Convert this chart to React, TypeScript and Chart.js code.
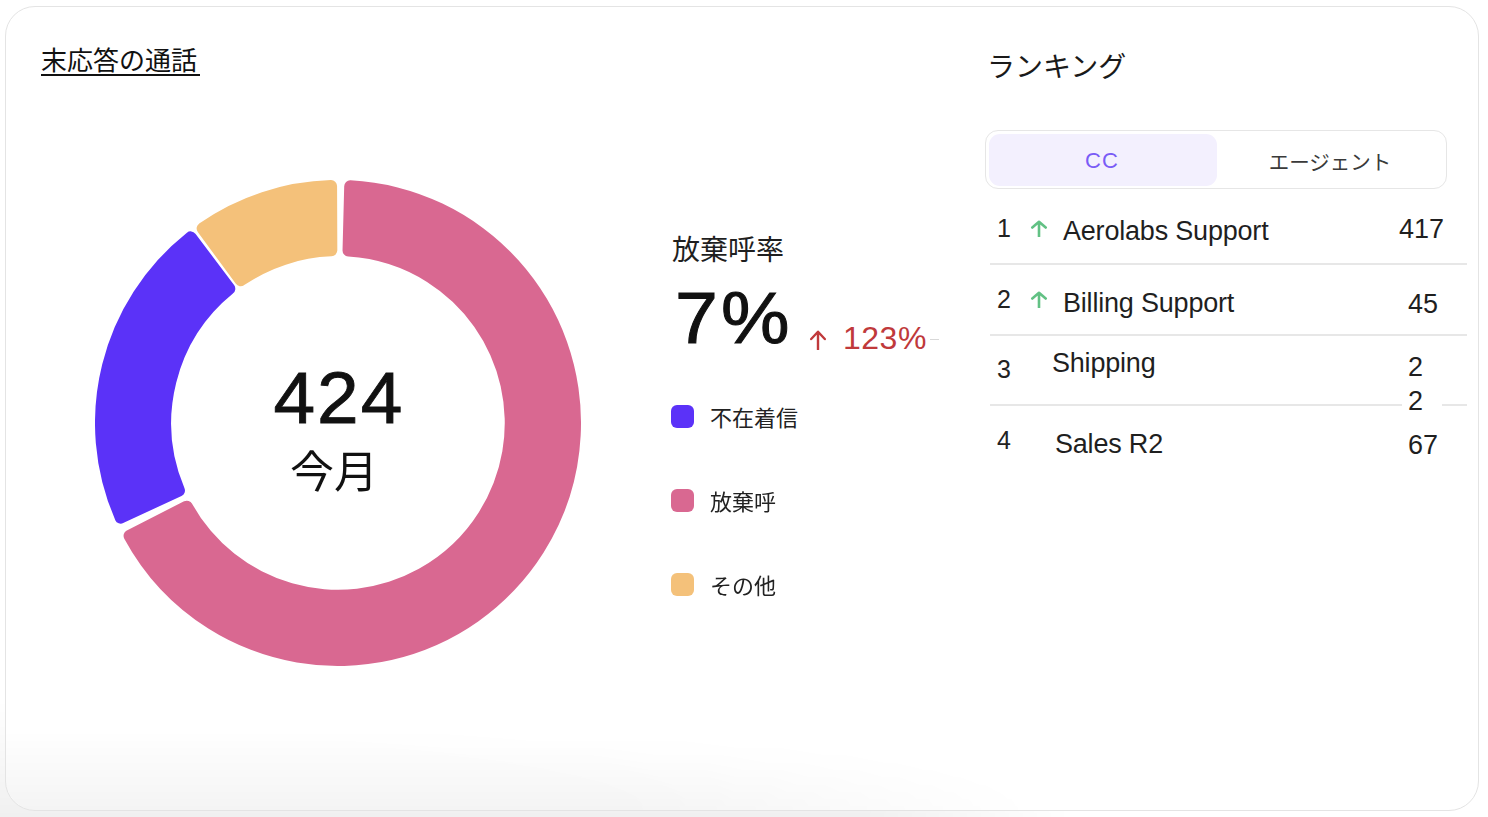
import React, { useEffect, useRef } from "react";
import { Chart, registerables } from "chart.js";

Chart.register(...registerables);

// ---- data ----
const categories = ["不在着信", "放棄呼", "その他"];
const callCounts = [93, 288, 43];
const categoryColors = ["#5B32F8", "#D96891", "#F4C17A"];
const drawOrder = [1, 0, 2]; // clockwise from top: 放棄呼, 不在着信, その他
const periodLabel = "今月";
const abandonRateLabel = "放棄呼率";
const abandonRate = "7%";
const abandonChange = "123%";

const rankPositions = ["1", "2", "3", "4"];
const rankNames = ["Aerolabs Support", "Billing Support", "Shipping", "Sales R2"];
const rankValues = ["417", "45", "22", "67"];
const rankTrendUp = [true, true, false, false];
const tabLabels = ["CC", "エージェント"];

const LATIN = '"Liberation Sans", Arial, "Noto Sans CJK JP", sans-serif';
const JP = '"Noto Sans CJK JP", "Liberation Sans", sans-serif';

function Txt(props: {
  x: number;
  cy: number;
  size: number;
  text: string;
  color?: string;
  font?: string;
  weight?: number;
  ls?: number;
  align?: "left" | "center";
  sx?: number;
  stroke?: number;
}) {
  const { x, cy, size, text, color = "#1a1a1a", font = LATIN, weight = 400, ls = 0, align = "left", sx = 1, stroke = 0 } = props;
  const style: React.CSSProperties = {
    position: "absolute",
    top: cy - size / 2,
    left: align === "center" ? x - 300 : x,
    width: align === "center" ? 600 : undefined,
    textAlign: align,
    fontSize: size,
    lineHeight: `${size}px`,
    fontFamily: font,
    fontWeight: weight,
    letterSpacing: ls,
    color,
    whiteSpace: "nowrap",
    transform: sx !== 1 ? `scaleX(${sx})` : undefined,
    transformOrigin: align === "center" ? "50% 50%" : "0 50%",
    WebkitTextStroke: stroke ? `${stroke}px ${color}` : undefined,
  };
  return <div style={style}>{text}</div>;
}

function Arrow(props: { cx: number; cy: number; w: number; h: number; color: string; sw: number }) {
  const { cx, cy, w, h, color, sw } = props;
  return (
    <svg
      width={w}
      height={h}
      viewBox={`0 0 ${w} ${h}`}
      style={{ position: "absolute", left: cx - w / 2, top: cy - h / 2 }}
    >
      <path
        d={`M ${w / 2} ${h - 0.5} L ${w / 2} ${sw} M ${sw / 2 + 1} ${h / 2 - 1} L ${w / 2} ${sw / 2 + 0.5} L ${w - sw / 2 - 1} ${h / 2 - 1}`}
        stroke={color}
        strokeWidth={sw}
        fill="none"
        strokeLinecap="round"
        strokeLinejoin="round"
      />
    </svg>
  );
}

const CANVAS = 486;

function Donut() {
  const ref = useRef<HTMLCanvasElement | null>(null);
  useEffect(() => {
    if (!ref.current) return;
    const chart = new Chart(ref.current, {
      type: "doughnut",
      data: {
        labels: drawOrder.map((i) => categories[i]),
        datasets: [
          {
            data: drawOrder.map((i) => callCounts[i]),
            backgroundColor: drawOrder.map((i) => categoryColors[i]),
            borderWidth: 0,
            borderRadius: 6,
            spacing: 5,
          },
        ],
      },
      options: {
        animation: false,
        responsive: false,
        cutout: "68.3%",
        layout: { padding: 0 },
        plugins: { legend: { display: false }, tooltip: { enabled: false } },
        events: [],
      } as any,
    });
    return () => chart.destroy();
  }, []);
  return (
    <div style={{ position: "absolute", left: 95, top: 180, width: CANVAS, height: CANVAS }}>
      <canvas ref={ref} width={CANVAS} height={CANVAS} style={{ width: CANVAS, height: CANVAS }} />
    </div>
  );
}

export default function App() {
  const total = callCounts.reduce((a, b) => a + b, 0);
  const rowCy = [
    { num: 228, name: 231, val: 229 },
    { num: 299, name: 303, val: 304 },
    { num: 369, name: 363, val: 367 },
    { num: 440, name: 444, val: 445 },
  ];
  const nameX = [1063, 1063, 1052, 1055];
  const valX = [1399, 1408, 1408, 1408];
  const legendCy = [416, 500, 584];
  const legendOrder = [0, 1, 2];

  return (
    <div
      style={{
        position: "absolute",
        left: 0,
        top: 0,
        width: 1488,
        height: 817,
        background: "#ffffff",
        overflow: "hidden",
      }}
    >
      {/* bottom outside shade */}
      <div
        style={{
          position: "absolute",
          left: 0,
          top: 700,
          width: 1488,
          height: 117,
          background: "linear-gradient(to bottom, rgba(0,0,0,0) 0%, rgba(0,0,0,0.06) 100%)",
          WebkitMaskImage: "linear-gradient(to right, #000 0%, #000 58%, transparent 72%)",
          maskImage: "linear-gradient(to right, #000 0%, #000 58%, transparent 72%)",
        }}
      />
      {/* card */}
      <div
        style={{
          position: "absolute",
          left: 5,
          top: 6,
          width: 1472,
          height: 803,
          border: "1.5px solid #e4e4e4",
          borderRadius: 30,
          background: "#ffffff",
          overflow: "hidden",
        }}
      >
        <div
          style={{
            position: "absolute",
            left: 0,
            bottom: 0,
            width: "100%",
            height: 80,
            background: "linear-gradient(to bottom, rgba(0,0,0,0) 0%, rgba(0,0,0,0.045) 100%)",
            WebkitMaskImage: "radial-gradient(ellipse 70% 140% at 0% 100%, #000 60%, transparent 100%)",
            maskImage: "radial-gradient(ellipse 70% 140% at 0% 100%, #000 60%, transparent 100%)",
          }}
        />
      </div>

      {/* title */}
      <Txt x={41} cy={59} size={26} text="末応答の通話" font={JP} color="#111" />
      <div style={{ position: "absolute", left: 41, top: 74, width: 159, height: 1.5, background: "#111" }} />

      <Donut />

      {/* center labels */}
      <Txt x={339} cy={398} size={72} text={String(total)} align="center" color="#111" ls={2} sx={1.04} stroke={0.8} />
      <Txt x={334} cy={469} size={44} text={periodLabel} align="center" font={JP} color="#111" />

      {/* rate */}
      <Txt x={672} cy={248} size={28} text={abandonRateLabel} font={JP} color="#1f1f1f" />
      <Txt x={675} cy={318} size={72} text={abandonRate} color="#111" ls={3} sx={1.07} stroke={1} />
      <Arrow cx={818} cy={340} w={18} h={20} color="#c0393b" sw={2.4} />
      <Txt x={843} cy={338} size={32} text={abandonChange} color="#c0393b" ls={0.5} />
      <div style={{ position: "absolute", left: 930, top: 339, width: 9, height: 1, background: "#d8d8d8" }} />

      {/* legend */}
      {legendOrder.map((i, k) => (
        <React.Fragment key={i}>
          <div
            style={{
              position: "absolute",
              left: 671,
              top: legendCy[k] - 11,
              width: 23,
              height: 23,
              borderRadius: 6,
              background: categoryColors[i],
            }}
          />
          <Txt x={710} cy={legendCy[k]} size={22} text={categories[i]} font={JP} color="#222" />
        </React.Fragment>
      ))}

      {/* ranking */}
      <Txt x={987} cy={65} size={28} text="ランキング" font={JP} color="#1a1a1a" />
      <div
        style={{
          position: "absolute",
          left: 985,
          top: 130,
          width: 462,
          height: 59,
          border: "1.5px solid #e6e6e6",
          borderRadius: 13,
          boxSizing: "border-box",
        }}
      />
      <div
        style={{
          position: "absolute",
          left: 989,
          top: 134,
          width: 228,
          height: 52,
          borderRadius: 11,
          background: "#f3f0fe",
        }}
      />
      <Txt x={1102} cy={161} size={22} text={tabLabels[0]} align="center" color="#7a5cf6" ls={1} />
      <Txt x={1330} cy={161} size={20.5} text={tabLabels[1]} align="center" font={JP} color="#3a3a3a" />

      {/* dividers */}
      <div style={{ position: "absolute", left: 990, top: 263, width: 477, height: 2, background: "#e7e7e7" }} />
      <div style={{ position: "absolute", left: 990, top: 334, width: 477, height: 2, background: "#e7e7e7" }} />
      <div style={{ position: "absolute", left: 990, top: 404, width: 412, height: 2, background: "#e7e7e7" }} />
      <div style={{ position: "absolute", left: 1442, top: 404, width: 25, height: 2, background: "#e7e7e7" }} />

      {rankPositions.map((p, i) => (
        <React.Fragment key={p}>
          <Txt x={997} cy={rowCy[i].num} size={25} text={p} color="#222" />
          {rankTrendUp[i] && <Arrow cx={1039} cy={rowCy[i].num} w={18} h={17} color="#62c184" sw={2.6} />}
          <Txt x={nameX[i]} cy={rowCy[i].name} size={27} text={rankNames[i]} color="#1f1f1f" ls={-0.2} />
          {i === 2 ? (
            <>
              <Txt x={valX[i]} cy={rowCy[i].val} size={27} text={rankValues[i].slice(0, 1)} color="#1f1f1f" />
              <Txt x={valX[i]} cy={rowCy[i].val + 34} size={27} text={rankValues[i].slice(1)} color="#1f1f1f" />
            </>
          ) : (
            <Txt x={valX[i]} cy={rowCy[i].val} size={27} text={rankValues[i]} color="#1f1f1f" />
          )}
        </React.Fragment>
      ))}
    </div>
  );
}
